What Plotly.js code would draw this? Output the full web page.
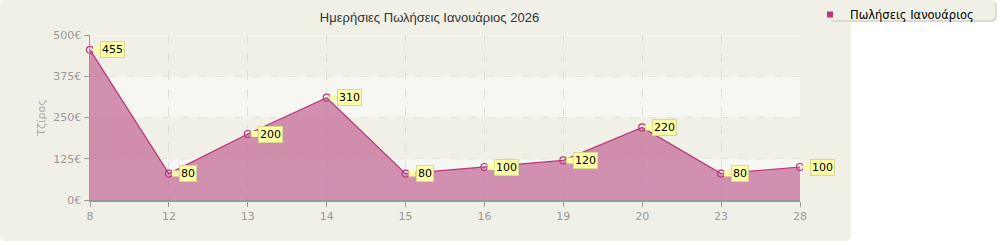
<!DOCTYPE html>
<html><head><meta charset="utf-8">
<script src="https://cdn.plot.ly/plotly-3.0.1.min.js"></script>
<style>html,body{margin:0;padding:0;background:#fff;}#chart{width:1000px;height:245px;}</style>
</head><body><div id="chart"></div>
<script>
const days = ['8','12','13','14','15','16','19','20','23','28'];
const sales = [455, 80, 200, 310, 80, 100, 120, 220, 80, 100];
const yTicks = [0, 125, 250, 375, 500];
const yTickLabels = ['0€','125€','250€','375€','500€'];
const seriesName = 'Πωλήσεις Ιανουάριος';
const chartTitle = 'Ημερήσιες Πωλήσεις Ιανουάριος 2026';
const yTitle = 'Τζίρος';

const L = 90, R = 800, T = 35, B = 200, W = 1000, H = 245;
const pw = R - L, ph = B - T;
const px = v => (v - L) / pw;
const py = v => (B - v) / ph;

const fontFam = '"DejaVu Sans", sans-serif';

function rrect(x0, y0, x1, y1, r) {
  const rx = r / pw, ry = r / ph;
  const X0 = px(x0), X1 = px(x1), Y0 = py(y0), Y1 = py(y1);
  return `M ${X0+rx},${Y0} L ${X1-rx},${Y0} Q ${X1},${Y0} ${X1},${Y0-ry} L ${X1},${Y1+ry} Q ${X1},${Y1} ${X1-rx},${Y1} L ${X0+rx},${Y1} Q ${X0},${Y1} ${X0},${Y1+ry} L ${X0},${Y0-ry} Q ${X0},${Y0} ${X0+rx},${Y0} Z`;
}

const shapes = [
  {type:'path', xref:'paper', yref:'paper', path: rrect(0, 0, 851, 241, 6), fillcolor:'#f1f0e6', line:{width:0}, layer:'below'},
  {type:'path', xref:'paper', yref:'paper', path: rrect(829, 1, 997, 22, 6), fillcolor:'#dcdbd0', line:{width:0}, layer:'below'},
  {type:'path', xref:'paper', yref:'paper', path: rrect(827, -1, 995, 20, 6), fillcolor:'#f1f0e6', line:{width:0}, layer:'below'},
];
const bandColors = ['#f6f6f2', '#f1f0e6', '#f6f6f2', '#f1f0e6'];
for (let i = 0; i < yTicks.length - 1; i++) {
  shapes.push({type:'rect', xref:'paper', yref:'y', x0:0, x1:1, y0:yTicks[i], y1:yTicks[i+1], fillcolor:bandColors[i], line:{width:0}, layer:'below'});
}
shapes.push({type:'line', xref:'paper', yref:'y', x0:0, x1:1, y0:500, y1:500, line:{color:'#ffffff', width:1}, layer:'below'});

const annotations = sales.map((v, i) => ({
  x: i, y: v, xref:'x', yref:'y',
  text: String(v),
  showarrow: true, arrowhead: 0, arrowwidth: 6, arrowcolor: '#ffffa8',
  ax: 10, ay: 0, standoff: 3,
  xanchor: 'left', yanchor: 'middle',
  bgcolor: '#ffffa8', bordercolor: '#d8d890', borderwidth: 1, borderpad: 1,
  font: {family: fontFam, size: 11, color: '#000'}
}));

const traces = [
  {
    x: days, y: sales, type:'scatter', mode:'lines+markers',
    fill:'tozeroy', fillcolor:'rgba(196,110,152,0.75)',
    line:{color:'#b8367a', width:1.2},
    marker:{symbol:'circle-open', size:7, color:'#b8367a', line:{width:1.2}},
    showlegend:false, hoverinfo:'x+y', cliponaxis:false
  },
  {
    x:[null], y:[null], type:'scatter', mode:'markers', name: seriesName,
    marker:{symbol:'square', size:6, color:'#b8367a'}, showlegend:true
  }
];

const layout = {
  width: W, height: H,
  margin: {l: L, r: W - R, t: T, b: H - B, pad: 0},
  paper_bgcolor: '#ffffff', plot_bgcolor: 'rgba(0,0,0,0)',
  title: {text: chartTitle, x: (322+537)/2/W, xanchor:'center', y: 1 - 17/H, yanchor:'middle',
          font:{family: '"Liberation Sans", sans-serif', size: 13, color:'#333'}},
  xaxis: {
    type:'category', range:[0, days.length - 1], fixedrange:true,
    showgrid:true, gridcolor:'#e0dfd6', griddash:'dash', gridwidth:1,
    showline:true, linecolor:'#999', linewidth:1.5,
    ticks:'outside', ticklen:5, tickcolor:'#999',
    tickfont:{family: fontFam, size: 11, color:'#999'}, zeroline:false
  },
  yaxis: {
    range:[0, 500], tickvals: yTicks, ticktext: yTickLabels, fixedrange:true,
    showgrid:true, gridcolor:'#e6e5dc', griddash:'dash',
    showline:true, linecolor:'#999', linewidth:1.5,
    ticks:'outside', ticklen:5, tickcolor:'#999',
    tickfont:{family: fontFam, size: 11, color:'#999'}, zeroline:false,
    title:{text: yTitle, standoff: 5, font:{family: fontFam, size: 11, color:'#aaa'}}
  },
  showlegend: true,
  legend: {xref:'container', yref:'container', x: 810/W, xanchor:'left', y: 1 + 4/H, yanchor:'top',
           bgcolor:'rgba(0,0,0,0)', borderwidth:0,
           font:{family: fontFam, size: 11.5, color:'#000'}, itemwidth: 30,
           tracegroupgap: 0},
  shapes: shapes,
  annotations: annotations
};

Plotly.newPlot('chart', traces, layout, {displayModeBar:false, staticPlot:true});
</script></body></html>
